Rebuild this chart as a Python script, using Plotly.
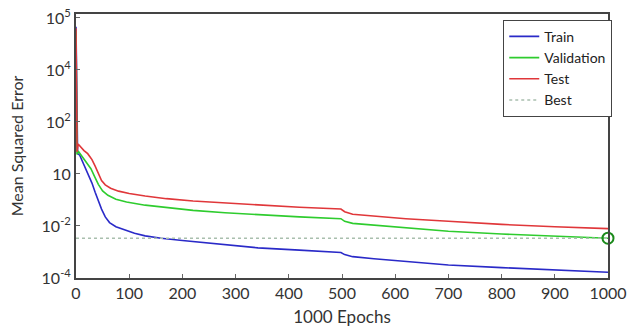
import plotly.graph_objects as go

# Data: epochs and log10 of Mean Squared Error
train_epochs = [0, 1, 2, 3, 7, 15, 22, 30, 36, 42, 48, 55, 63, 75, 90, 110, 130, 160, 200, 250, 300, 342, 420, 498, 505, 520, 560, 620, 700, 800, 900, 1000]
train_log = [5.66, 2.75, 2.0, 0.78, 0.72, 0.35, 0.05, -0.35, -0.7, -1.05, -1.35, -1.65, -1.87, -2.03, -2.15, -2.28, -2.38, -2.47, -2.56, -2.65, -2.76, -2.84, -2.93, -3.02, -3.1, -3.18, -3.26, -3.36, -3.5, -3.6, -3.7, -3.78]

val_epochs = [0, 2, 4, 10, 20, 28, 35, 42, 50, 60, 75, 95, 130, 170, 220, 280, 342, 420, 498, 505, 520, 560, 620, 660, 700, 800, 900, 1000]
val_log = [5.5, 0.75, 0.88, 0.7, 0.45, 0.2, -0.1, -0.4, -0.65, -0.82, -0.97, -1.08, -1.2, -1.3, -1.4, -1.49, -1.57, -1.65, -1.72, -1.82, -1.9, -1.97, -2.08, -2.15, -2.2, -2.31, -2.39, -2.47]

test_epochs = [0, 1, 2, 4, 8, 15, 22, 30, 36, 42, 48, 55, 65, 80, 100, 130, 170, 220, 280, 342, 420, 498, 505, 520, 560, 620, 700, 800, 900, 1000]
test_log = [5.6, 2.6, 0.85, 1.15, 1.05, 0.9, 0.78, 0.55, 0.3, 0.0, -0.25, -0.42, -0.55, -0.66, -0.75, -0.85, -0.95, -1.04, -1.12, -1.2, -1.28, -1.35, -1.45, -1.55, -1.62, -1.72, -1.82, -1.94, -2.03, -2.1]

best_epoch = 1000
best_log = -2.47

x_ticks = [0, 100, 200, 300, 400, 500, 600, 700, 800, 900, 1000]
y_tick_logs = [-4, -2, 0, 2, 4, 6]
y_tick_text = ["10<sup>-4</sup>", "10<sup>-2</sup>", "10", "10<sup>2</sup>", "10<sup>4</sup>", "10<sup>5</sup>"]

def to_mse(v):
    return [10 ** a for a in v]

FONT = "Lato, Open Sans, sans-serif"

fig = go.Figure()
fig.add_trace(go.Scatter(x=train_epochs, y=to_mse(train_log), mode="lines", name="Train",
                         line=dict(color="#2a2ac8", width=1.6)))
fig.add_trace(go.Scatter(x=val_epochs, y=to_mse(val_log), mode="lines", name="Validation",
                         line=dict(color="#2ecc2e", width=1.6)))
fig.add_trace(go.Scatter(x=test_epochs, y=to_mse(test_log), mode="lines", name="Test",
                         line=dict(color="#e0373a", width=1.6)))
fig.add_trace(go.Scatter(x=[0, 1000], y=to_mse([best_log, best_log]), mode="lines", name="Best",
                         line=dict(color="#a9bfae", width=1.4, dash="dot")))
fig.add_trace(go.Scatter(x=[best_epoch], y=to_mse([best_log]), mode="markers", showlegend=False,
                         cliponaxis=False,
                         marker=dict(symbol="circle-open", size=11, color="#1b8a1b", line=dict(width=2))))

fig.update_layout(
    width=633, height=335,
    margin=dict(l=76, r=19, t=6, b=57),
    paper_bgcolor="white", plot_bgcolor="white",
    font=dict(family=FONT, size=16, color="#333333"),
    showlegend=True,
    legend=dict(x=1.008, y=0.978, xanchor="right", yanchor="top",
                bgcolor="white", bordercolor="#444444", borderwidth=1,
                font=dict(size=14, color="#222222"), itemwidth=30,
                tracegroupgap=0),
    xaxis=dict(range=[0, 1000], tickvals=x_ticks, ticks="inside", ticklen=4,
               tickcolor="#666666", showgrid=False, zeroline=False,
               showline=True, linecolor="#444444", linewidth=2, mirror=True,
               ticklabeloverflow="allow",
               title=dict(text="1000 Epochs", standoff=10, font=dict(size=17))),
    yaxis=dict(type="log", range=[-4, 6.15], tickvals=[10 ** a for a in y_tick_logs],
               ticktext=y_tick_text, ticks="inside", ticklen=4, tickcolor="#666666",
               showgrid=False, zeroline=False, ticklabeloverflow="allow",
               showline=True, linecolor="#444444", linewidth=2, mirror=True,
               title=dict(text="Mean Squared Error", standoff=14, font=dict(size=16))),
)

fig.write_html("out.html")
